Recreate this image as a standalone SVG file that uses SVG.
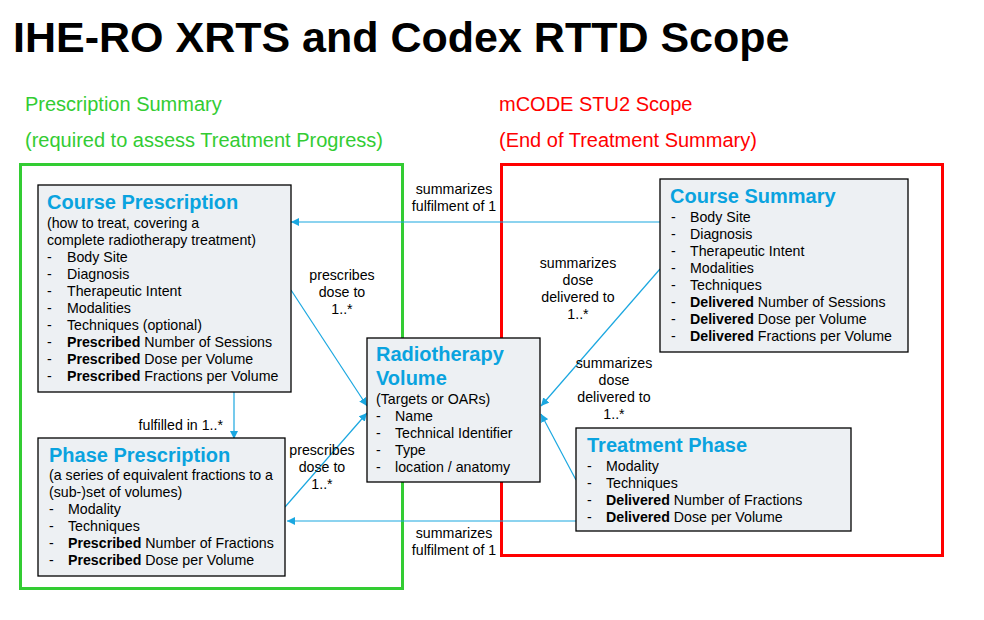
<svg xmlns="http://www.w3.org/2000/svg" width="984" height="620" viewBox="0 0 984 620">
<style>
text{font-family:"Liberation Sans",Arial,sans-serif;}
.title{font-size:43px;font-weight:bold;fill:#000;}
.grp{font-size:20px;}
.g{fill:#33cc33;}
.r{fill:#ff0000;}
.box{fill:#edf0f3;stroke:#000;stroke-width:1.3;}
.nt{font-size:20px;font-weight:bold;fill:#0aa3df;}
.t{font-size:14.2px;fill:#000;}
.b{font-weight:bold;}
.lbl{font-size:14.2px;fill:#000;text-anchor:middle;}
.con{stroke:#1aa7e0;stroke-width:1.2;fill:none;marker-end:url(#ah);}
</style>
<defs>
<marker id="ah" viewBox="0 0 10 10" refX="10" refY="5" markerWidth="8" markerHeight="8" markerUnits="userSpaceOnUse" orient="auto">
<path d="M0,0 L10,5 L0,10 z" fill="#1aa7e0"/>
</marker>
</defs>
<rect width="984" height="620" fill="#fff"/>
<text class="title" x="13" y="52">IHE-RO XRTS and Codex RTTD Scope</text>
<g id="scope-prescription">
<text class="grp g" x="25" y="111">Prescription Summary</text>
<text class="grp g" x="25" y="147">(required to assess Treatment Progress)</text>
<rect x="20.5" y="164.5" width="382" height="424" fill="none" stroke="#33cc33" stroke-width="3"/>
</g>
<g id="scope-mcode">
<text class="grp r" x="499" y="111">mCODE STU2 Scope</text>
<text class="grp r" x="499" y="147">(End of Treatment Summary)</text>
<rect x="501.5" y="164.5" width="441" height="391" fill="none" stroke="#ff0000" stroke-width="3"/>
</g>
<g id="connectors">
<line class="con" x1="660" y1="222" x2="291" y2="222"/>
<line class="con" x1="576" y1="521" x2="287" y2="521"/>
<line class="con" x1="234" y1="392" x2="234" y2="439"/>
<line class="con" x1="291" y1="290" x2="367" y2="406"/>
<line class="con" x1="285" y1="507" x2="367" y2="413"/>
<line class="con" x1="660" y1="269" x2="541" y2="406"/>
<line class="con" x1="576" y1="480" x2="541" y2="414"/>
<text class="lbl" x="454" y="194">summarizes</text>
<text class="lbl" x="454" y="211">fulfilment of 1</text>
<text class="lbl" x="342" y="280">prescribes</text>
<text class="lbl" x="342" y="297">dose to</text>
<text class="lbl" x="342" y="314">1..*</text>
<text class="lbl" x="578" y="268">summarizes</text>
<text class="lbl" x="578" y="285">dose</text>
<text class="lbl" x="578" y="302">delivered to</text>
<text class="lbl" x="578" y="319">1..*</text>
<text class="lbl" x="614" y="368">summarizes</text>
<text class="lbl" x="614" y="385">dose</text>
<text class="lbl" x="614" y="402">delivered to</text>
<text class="lbl" x="614" y="419">1..*</text>
<text class="lbl" x="322" y="455">prescribes</text>
<text class="lbl" x="322" y="472">dose to</text>
<text class="lbl" x="322" y="489">1..*</text>
<text class="lbl" x="454" y="538">summarizes</text>
<text class="lbl" x="454" y="555">fulfilment of 1</text>
<text class="t" x="223" y="430" text-anchor="end">fulfilled in 1..*</text>
</g>
<g id="course-prescription">
<rect class="box" x="38" y="185" width="253" height="207"/>
<text class="nt" x="47" y="209">Course Prescription</text>
<text class="t" x="47" y="228">(how to treat, covering a</text>
<text class="t" x="47" y="245">complete radiotherapy treatment)</text>
<text class="t" x="47" y="262">-</text><text class="t" x="67" y="262">Body Site</text>
<text class="t" x="47" y="279">-</text><text class="t" x="67" y="279">Diagnosis</text>
<text class="t" x="47" y="296">-</text><text class="t" x="67" y="296">Therapeutic Intent</text>
<text class="t" x="47" y="313">-</text><text class="t" x="67" y="313">Modalities</text>
<text class="t" x="47" y="330">-</text><text class="t" x="67" y="330">Techniques (optional)</text>
<text class="t" x="47" y="347">-</text><text class="t" x="67" y="347"><tspan class="b">Prescribed</tspan> Number of Sessions</text>
<text class="t" x="47" y="364">-</text><text class="t" x="67" y="364"><tspan class="b">Prescribed</tspan> Dose per Volume</text>
<text class="t" x="47" y="381">-</text><text class="t" x="67" y="381"><tspan class="b">Prescribed</tspan> Fractions per Volume</text>
</g>
<g id="phase-prescription">
<rect class="box" x="38" y="438" width="247" height="138"/>
<text class="nt" x="49" y="462">Phase Prescription</text>
<text class="t" x="49" y="480">(a series of equivalent fractions to a</text>
<text class="t" x="49" y="497">(sub-)set of volumes)</text>
<text class="t" x="49" y="514">-</text><text class="t" x="68" y="514">Modality</text>
<text class="t" x="49" y="531">-</text><text class="t" x="68" y="531">Techniques</text>
<text class="t" x="49" y="548">-</text><text class="t" x="68" y="548"><tspan class="b">Prescribed</tspan> Number of Fractions</text>
<text class="t" x="49" y="565">-</text><text class="t" x="68" y="565"><tspan class="b">Prescribed</tspan> Dose per Volume</text>
</g>
<g id="radiotherapy-volume">
<rect class="box" x="367" y="338" width="173" height="144"/>
<text class="nt" x="376" y="361">Radiotherapy</text>
<text class="nt" x="376" y="385">Volume</text>
<text class="t" x="376" y="404">(Targets or OARs)</text>
<text class="t" x="376" y="421">-</text><text class="t" x="395" y="421">Name</text>
<text class="t" x="376" y="438">-</text><text class="t" x="395" y="438">Technical Identifier</text>
<text class="t" x="376" y="455">-</text><text class="t" x="395" y="455">Type</text>
<text class="t" x="376" y="472">-</text><text class="t" x="395" y="472">location / anatomy</text>
</g>
<g id="course-summary">
<rect class="box" x="660" y="179" width="248" height="173"/>
<text class="nt" x="670" y="203">Course Summary</text>
<text class="t" x="671" y="222">-</text><text class="t" x="690" y="222">Body Site</text>
<text class="t" x="671" y="239">-</text><text class="t" x="690" y="239">Diagnosis</text>
<text class="t" x="671" y="256">-</text><text class="t" x="690" y="256">Therapeutic Intent</text>
<text class="t" x="671" y="273">-</text><text class="t" x="690" y="273">Modalities</text>
<text class="t" x="671" y="290">-</text><text class="t" x="690" y="290">Techniques</text>
<text class="t" x="671" y="307">-</text><text class="t" x="690" y="307"><tspan class="b">Delivered</tspan> Number of Sessions</text>
<text class="t" x="671" y="324">-</text><text class="t" x="690" y="324"><tspan class="b">Delivered</tspan> Dose per Volume</text>
<text class="t" x="671" y="341">-</text><text class="t" x="690" y="341"><tspan class="b">Delivered</tspan> Fractions per Volume</text>
</g>
<g id="treatment-phase">
<rect class="box" x="576" y="428" width="275" height="103"/>
<text class="nt" x="587" y="452">Treatment Phase</text>
<text class="t" x="587" y="471">-</text><text class="t" x="606" y="471">Modality</text>
<text class="t" x="587" y="488">-</text><text class="t" x="606" y="488">Techniques</text>
<text class="t" x="587" y="505">-</text><text class="t" x="606" y="505"><tspan class="b">Delivered</tspan> Number of Fractions</text>
<text class="t" x="587" y="522">-</text><text class="t" x="606" y="522"><tspan class="b">Delivered</tspan> Dose per Volume</text>
</g>
</svg>
